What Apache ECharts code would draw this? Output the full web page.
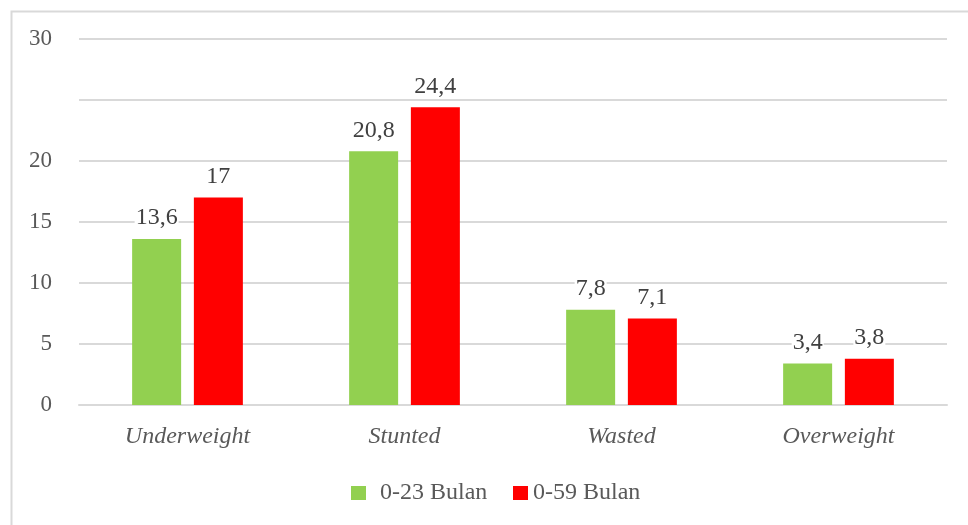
<!DOCTYPE html>
<html>
<head>
<meta charset="utf-8">
<script src="https://cdn.jsdelivr.net/npm/echarts@6/dist/echarts.min.js"></script>
<style>
  html, body { margin: 0; padding: 0; background: #fff; }
  #chart { width: 968px; height: 525px; }
</style>
</head>
<body>
<div id="chart"></div>
<script>
// data
var categories = ['Underweight', 'Stunted', 'Wasted', 'Overweight'];
var seriesNames = ['0-23 Bulan', '0-59 Bulan'];
var bulan023 = [13.6, 20.8, 7.8, 3.4];
var bulan059 = [17, 24.4, 7.1, 3.8];
var hiddenTicks = [25]; // no label printed at 25 in the source

var font = '"Liberation Serif", "Times New Roman", serif';

function fmt(v) {
    return String(v).replace('.', ',');
}

var myChart = echarts.init(document.getElementById('chart'));

function makeSeries(name, data, color) {
    return {
        name: name,
        type: 'bar',
        data: data,
        barWidth: 49,
        barGap: '26%',
        itemStyle: { color: color },
        label: {
            show: true,
            position: 'top',
            distance: 9,
            color: '#404040',
            fontFamily: font,
            fontSize: 24,
            backgroundColor: '#fff',
            padding: [0, 1, 0, 1],
            formatter: function(p) { return fmt(p.value); }
        }
    };
}

var option = {
    animation: false,
    textStyle: { fontFamily: font },
    graphic: [{
        type: 'rect',
        left: 9, top: 9,
        shape: { width: 1000, height: 600 },
        style: { fill: 'none', stroke: '#d9d9d9', lineWidth: 2 },
        z: -1
    }],
    grid: { left: 79, right: 21, top: 39, bottom: 120 },
    legend: [{
        data: [seriesNames[0]],
        left: 346, top: 476,
        itemWidth: 15, itemHeight: 14,
        icon: 'rect',
        textStyle: { fontFamily: font, fontSize: 24, color: '#595959', padding: [0, 0, 0, 9] }
    }, {
        data: [seriesNames[1]],
        left: 508, top: 476,
        itemWidth: 15, itemHeight: 14,
        icon: 'rect',
        textStyle: { fontFamily: font, fontSize: 24, color: '#595959', padding: [0, 0, 0, 0] }
    }],
    xAxis: {
        type: 'category',
        data: categories,
        axisLine: { show: true, lineStyle: { color: '#d9d9d9', width: 2 } },
        axisTick: { show: false },
        axisLabel: {
            margin: 20,
            fontFamily: font,
            fontSize: 24,
            fontStyle: 'italic',
            color: '#595959'
        }
    },
    yAxis: {
        type: 'value',
        min: 0, max: 30, interval: 5,
        axisLine: { show: false },
        axisTick: { show: false },
        splitLine: { lineStyle: { color: '#d9d9d9', width: 2 } },
        axisLabel: {
            margin: 27,
            fontFamily: font,
            fontSize: 23,
            color: '#595959',
            formatter: function(v) {
                return hiddenTicks.indexOf(v) >= 0 ? '' : String(v);
            }
        }
    },
    series: [
        makeSeries(seriesNames[0], bulan023, '#92D050'),
        makeSeries(seriesNames[1], bulan059, '#FF0000')
    ]
};

myChart.setOption(option);
</script>
</body>
</html>
